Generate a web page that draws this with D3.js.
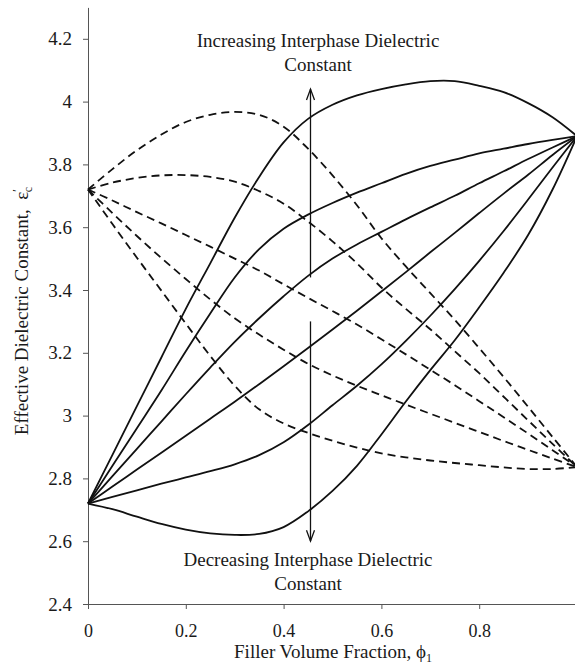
<!DOCTYPE html>
<html>
<head>
<meta charset="utf-8">
<script src="https://cdn.jsdelivr.net/npm/d3@7"></script>
<style>
  html, body { margin: 0; padding: 0; background: #fff; }
  svg { display: block; }
</style>
</head>
<body>
<svg id="chart" width="575" height="664"></svg>
<script>
// Filler volume fraction grid shared by every curve
const phi = [0, 0.05, 0.1, 0.15, 0.2, 0.25, 0.3, 0.35, 0.4, 0.45, 0.5,
             0.55, 0.6, 0.65, 0.7, 0.75, 0.8, 0.85, 0.9, 0.95, 1];

// Matrix 2.72 -> filler 3.89, six interphase dielectric constants (solid)
const solid1 = [2.72, 2.875, 3.03, 3.185, 3.34, 3.485, 3.63, 3.76, 3.87, 3.945, 3.99,
                4.02, 4.04, 4.055, 4.065, 4.065, 4.05, 4.03, 3.995, 3.95, 3.89];
const solid2 = [2.72, 2.84, 2.96, 3.08, 3.205, 3.325, 3.44, 3.53, 3.595, 3.64, 3.677,
                3.71, 3.74, 3.77, 3.795, 3.815, 3.835, 3.85, 3.865, 3.878, 3.89];
const solid3 = [2.72, 2.807, 2.894, 2.981, 3.068, 3.153, 3.235, 3.31, 3.38, 3.445, 3.5,
                3.545, 3.585, 3.625, 3.663, 3.70, 3.74, 3.778, 3.817, 3.854, 3.89];
const solid4 = [2.72, 2.774, 2.828, 2.882, 2.936, 2.99, 3.044, 3.1, 3.157, 3.215, 3.274,
                3.334, 3.395, 3.457, 3.52, 3.582, 3.645, 3.707, 3.767, 3.83, 3.89];
const solid5 = [2.72, 2.741, 2.762, 2.783, 2.803, 2.823, 2.845, 2.874, 2.915, 2.97, 3.033,
                3.095, 3.163, 3.238, 3.318, 3.403, 3.493, 3.588, 3.688, 3.79, 3.89];
const solid6 = [2.72, 2.702, 2.678, 2.655, 2.637, 2.625, 2.62, 2.623, 2.645, 2.695, 2.76,
                2.84, 2.94, 3.045, 3.145, 3.24, 3.345, 3.455, 3.575, 3.72, 3.89];

// Matrix 3.72 -> filler 2.836, five interphase dielectric constants (dashed)
const dashed1 = [3.72, 3.785, 3.845, 3.895, 3.935, 3.958, 3.967, 3.958, 3.92, 3.85, 3.765,
                 3.67, 3.565, 3.475, 3.39, 3.305, 3.215, 3.123, 3.028, 2.932, 2.836];
const dashed2 = [3.72, 3.742, 3.757, 3.765, 3.766, 3.76, 3.745, 3.715, 3.675, 3.618, 3.555,
                 3.485, 3.408, 3.34, 3.275, 3.205, 3.135, 3.06, 2.985, 2.91, 2.836];
const dashed3 = [3.72, 3.685, 3.648, 3.612, 3.575, 3.538, 3.5, 3.462, 3.418, 3.375, 3.333,
                 3.29, 3.243, 3.195, 3.146, 3.097, 3.046, 2.995, 2.943, 2.89, 2.836];
const dashed4 = [3.72, 3.645, 3.572, 3.502, 3.435, 3.37, 3.31, 3.258, 3.21, 3.165, 3.128,
                 3.095, 3.065, 3.035, 3.006, 2.977, 2.948, 2.919, 2.891, 2.863, 2.836];
const dashed5 = [3.72, 3.61, 3.503, 3.398, 3.293, 3.19, 3.095, 3.02, 2.975, 2.945, 2.92,
                 2.898, 2.88, 2.867, 2.857, 2.849, 2.842, 2.835, 2.83, 2.83, 2.836];

// Axis ticks
const xTicks = [0, 0.2, 0.4, 0.6, 0.8];
const xTickLabels = ["0", "0.2", "0.4", "0.6", "0.8"];
const yTicks = [2.4, 2.6, 2.8, 3.0, 3.2, 3.4, 3.6, 3.8, 4.0, 4.2];
const yTickLabels = ["2.4", "2.6", "2.8", "3", "3.2", "3.4", "3.6", "3.8", "4", "4.2"];

// Trend arrow (phi position, start/end of each shaft)
const arrowPhi = 0.455;
const arrowUp = [3.44, 4.04];
const arrowDown = [3.30, 2.60];

const FONT = "'Liberation Serif', 'Times New Roman', Times, serif";
const INK = "#111";

const svg = d3.select("#chart");
const x = d3.scaleLinear().domain([0, 1]).range([88, 577]);
const y = d3.scaleLinear().domain([2.4, 4.3]).range([604, 7.4]);

// Axes
const xAxis = d3.axisBottom(x).tickValues(xTicks)
  .tickFormat((d, i) => xTickLabels[i]).tickSize(5).tickSizeOuter(0).tickPadding(15.5);
const yAxis = d3.axisLeft(y).tickValues(yTicks)
  .tickFormat((d, i) => yTickLabels[i]).tickSize(5).tickSizeOuter(0).tickPadding(11);

const gx = svg.append("g").attr("transform", `translate(0,${y(2.4)})`).call(xAxis);
const gy = svg.append("g").attr("transform", `translate(${x(0)},0)`).call(yAxis);
[gx, gy].forEach(g => {
  g.select(".domain").attr("stroke", "#555").attr("stroke-width", 1);
  g.selectAll(".tick line").attr("stroke", "#555").attr("stroke-width", 1);
  g.selectAll(".tick text").attr("font-family", FONT).attr("font-size", 19).attr("fill", "#1a1a1a");
});
gx.selectAll(".tick text").attr("font-size", 18);

// Curves
const line = d3.line()
  .x((d, i) => x(phi[i]))
  .y(d => y(d))
  .curve(d3.curveCatmullRom.alpha(0.5));

const solids = [solid1, solid2, solid3, solid4, solid5, solid6];
const dashes = [dashed1, dashed2, dashed3, dashed4, dashed5];

svg.append("g").selectAll("path").data(solids).join("path")
  .attr("d", line).attr("fill", "none").attr("stroke", INK)
  .attr("stroke-width", 1.8).attr("stroke-linejoin", "round");

svg.append("g").selectAll("path").data(dashes).join("path")
  .attr("d", line).attr("fill", "none").attr("stroke", INK)
  .attr("stroke-width", 1.8).attr("stroke-dasharray", "8,5");

// Arrows
const ax = x(arrowPhi);
const arrows = svg.append("g").attr("stroke", INK).attr("fill", "none").attr("stroke-width", 1.3);
arrows.append("line").attr("x1", ax).attr("x2", ax).attr("y1", y(arrowUp[0])).attr("y2", y(arrowUp[1]));
arrows.append("path").attr("d", `M${ax - 4},${y(arrowUp[1]) + 11}L${ax},${y(arrowUp[1])}L${ax + 4},${y(arrowUp[1]) + 11}`);
arrows.append("line").attr("x1", ax).attr("x2", ax).attr("y1", y(arrowDown[0])).attr("y2", y(arrowDown[1]));
arrows.append("path").attr("d", `M${ax - 4},${y(arrowDown[1]) - 11}L${ax},${y(arrowDown[1])}L${ax + 4},${y(arrowDown[1]) - 11}`);

// Annotations
function note(cx, y0, lines) {
  const t = svg.append("text").attr("font-family", FONT).attr("font-size", 19)
    .attr("fill", "#1a1a1a").attr("text-anchor", "middle");
  lines.forEach((s, i) => t.append("tspan").attr("x", cx).attr("y", y0 + i * 24).text(s));
}
note(318, 47, ["Increasing Interphase Dielectric", "Constant"]);
note(308, 566, ["Decreasing Interphase Dielectric", "Constant"]);

// Axis titles
const xt = svg.append("text").attr("x", 333).attr("y", 658)
  .attr("font-family", FONT).attr("font-size", 19).attr("fill", "#1a1a1a")
  .attr("text-anchor", "middle");
xt.append("tspan").text("Filler Volume Fraction, \u03D5");
xt.append("tspan").attr("font-size", 12).attr("dy", 4).text("1");

const yt = svg.append("text").attr("transform", "translate(28,311) rotate(-90)")
  .attr("font-family", FONT).attr("font-size", 19).attr("fill", "#1a1a1a")
  .attr("text-anchor", "middle");
yt.append("tspan").text("Effective Dielectric Constant,\u00A0\u00A0\u03B5");
yt.append("tspan").attr("font-size", 12).attr("dy", -7).text("\u2032");
yt.append("tspan").attr("font-size", 12).attr("dx", -3).attr("dy", 11).text("c");
</script>
</body>
</html>
